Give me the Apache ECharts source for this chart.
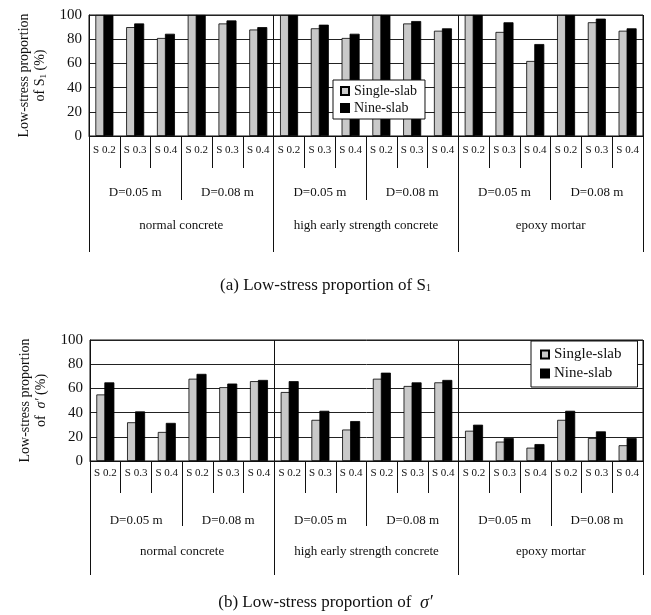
<!DOCTYPE html>
<html>
<head>
<meta charset="utf-8">
<script src="https://cdn.jsdelivr.net/npm/echarts@6/dist/echarts.min.js"></script>
<style>
html,body{margin:0;padding:0;background:#fff;}
#chart{width:651px;height:615px;}
</style>
</head>
<body>
<div id="chart"></div>
<script>
// ---- data ----
const stressLevels = ['S 0.2', 'S 0.3', 'S 0.4'];
const diameters = ['D=0.05 m', 'D=0.08 m'];
const materials = ['normal concrete', 'high early strength concrete', 'epoxy mortar'];
const seriesNames = ['Single-slab', 'Nine-slab'];
const yTicks = [0, 20, 40, 60, 80, 100];

// (a) Low-stress proportion of S1
const singleS1 = [100, 90, 81, 100, 93, 88, 100, 89, 81, 100, 93, 87, 100, 86, 62, 100, 94, 87];
const nineS1   = [100, 93, 84.5, 100, 95.5, 90, 100, 92, 84.5, 100, 95, 89, 100, 94, 76, 100, 97, 89];

// (b) Low-stress proportion of sigma'
const singleSig = [55, 32, 24, 68, 61, 66, 57, 34, 26, 68, 62, 65, 25, 16, 11, 34, 19, 13];
const nineSig   = [65, 41, 31.5, 72, 64, 67, 66, 41.5, 33, 73, 65, 67, 30, 19, 14, 41.5, 24.5, 19];

// ---- derived category lists ----
const sCategories = [];
const dCategories = [];
materials.forEach(() => diameters.forEach(d => {
  dCategories.push(d);
  stressLevels.forEach(s => sCategories.push(s));
}));

const FONT = '"Liberation Serif", "Times New Roman", serif';
const TXT = '#111';
const GRAY = '#c9c9c9';

function gridDef(top, left) {
  return { left: left, right: 8, top: top, height: 121, show: true, borderColor: '#111', borderWidth: 1, backgroundColor: 'transparent' };
}

function xAxes(gridIndex, m1, m2, m3, t1, t2, t3) {
  return [
    {
      type: 'category', gridIndex, position: 'bottom', data: sCategories,
      axisLine: { show: true, onZero: false, lineStyle: { color: '#111', width: 1 } },
      axisTick: { show: true, interval: 0, length: t1, lineStyle: { color: '#111', width: 1 } },
      axisLabel: { interval: 0, margin: m1, fontFamily: FONT, fontSize: 11, color: TXT },
      splitLine: { show: false }
    },
    {
      type: 'category', gridIndex, position: 'bottom', data: dCategories,
      axisLine: { show: false, onZero: false },
      axisTick: { show: true, interval: 0, length: t2, lineStyle: { color: '#111', width: 1 } },
      axisLabel: { interval: 0, margin: m2, fontFamily: FONT, fontSize: 13, color: TXT },
      splitLine: { show: false }
    },
    {
      type: 'category', gridIndex, position: 'bottom', data: materials,
      axisLine: { show: false, onZero: false },
      axisTick: { show: true, interval: 0, length: t3, lineStyle: { color: '#111', width: 1 } },
      axisLabel: { interval: 0, margin: m3, fontFamily: FONT, fontSize: 13, color: TXT },
      splitLine: { show: true, interval: 0, lineStyle: { color: '#111', width: 1 } }
    }
  ];
}

function yAxis(gridIndex, name) {
  return {
    type: 'value', gridIndex, min: yTicks[0], max: yTicks[yTicks.length - 1], interval: yTicks[1] - yTicks[0],
    name: name, nameLocation: 'middle', nameGap: 40,
    nameTextStyle: {
      fontFamily: FONT, fontSize: 14, color: TXT, lineHeight: 16, align: 'center',
      rich: {
        sub: { fontFamily: FONT, fontSize: 9, color: TXT, padding: [7, 0, 0, 0] },
        it: { fontFamily: FONT, fontSize: 14, fontStyle: 'italic', color: TXT }
      }
    },
    axisLine: { show: true, lineStyle: { color: '#111' } },
    axisTick: { show: false },
    axisLabel: { margin: 7, fontFamily: FONT, fontSize: 15, color: TXT },
    splitLine: { show: true, lineStyle: { color: '#222', width: 1 } }
  };
}

function barSeries(name, data, xi, yi, color) {
  return {
    type: 'bar', name, data, xAxisIndex: xi, yAxisIndex: yi,
    barWidth: 10, barGap: '-20%',
    itemStyle: { color: color, borderColor: '#000', borderWidth: 0.8 },
    emphasis: { disabled: true }
  };
}

function legendDef(left, top, pad, gap, fs) {
  return {
    data: seriesNames, orient: 'vertical', left, top,
    padding: pad, itemGap: gap, itemWidth: 8, itemHeight: 8, icon: 'rect',
    backgroundColor: '#fff', borderColor: '#111', borderWidth: 1, borderRadius: 0,
    textStyle: { fontFamily: FONT, fontSize: fs, color: TXT, padding: [0, 0, 0, 0] },
    selectedMode: false
  };
}

const chart = echarts.init(document.getElementById('chart'), null, { renderer: 'canvas' });
chart.setOption({
  animation: false,
  backgroundColor: '#fff',
  title: [
    {
      text: '(a) Low-stress proportion of S{sub|1}', left: 'center', top: 272,
      textStyle: { fontFamily: FONT, fontSize: 17, fontWeight: 'normal', color: TXT,
        rich: { sub: { fontFamily: FONT, fontSize: 10, color: TXT, padding: [6, 0, 0, 0] } } }
    },
    {
      text: '(b) Low-stress proportion of  {it|σ′}', left: 'center', top: 589,
      textStyle: { fontFamily: FONT, fontSize: 17, fontWeight: 'normal', color: TXT,
        rich: { it: { fontFamily: FONT, fontSize: 18, fontStyle: 'italic', color: TXT } } }
    }
  ],
  legend: [
    legendDef(333, 80, [4, 8, 4, 7], 3, 14),
    legendDef(531, 341, [6, 16, 6, 9], 4, 15)
  ],
  grid: [gridDef(15, 89), gridDef(340, 90)],
  xAxis: [].concat(
    xAxes(0, 9, 50, 83, 32, 64, 116),
    xAxes(1, 7, 53, 84, 32, 65, 114)
  ),
  yAxis: [
    yAxis(0, 'Low-stress proportion\nof S{sub|1} (%)'),
    yAxis(1, 'Low-stress proportion\nof  {it|σ′} (%)')
  ],
  series: [
    barSeries(seriesNames[0], singleS1, 0, 0, GRAY),
    barSeries(seriesNames[1], nineS1, 0, 0, '#000'),
    barSeries(seriesNames[0], singleSig, 3, 1, GRAY),
    barSeries(seriesNames[1], nineSig, 3, 1, '#000')
  ]
});
</script>
</body>
</html>
